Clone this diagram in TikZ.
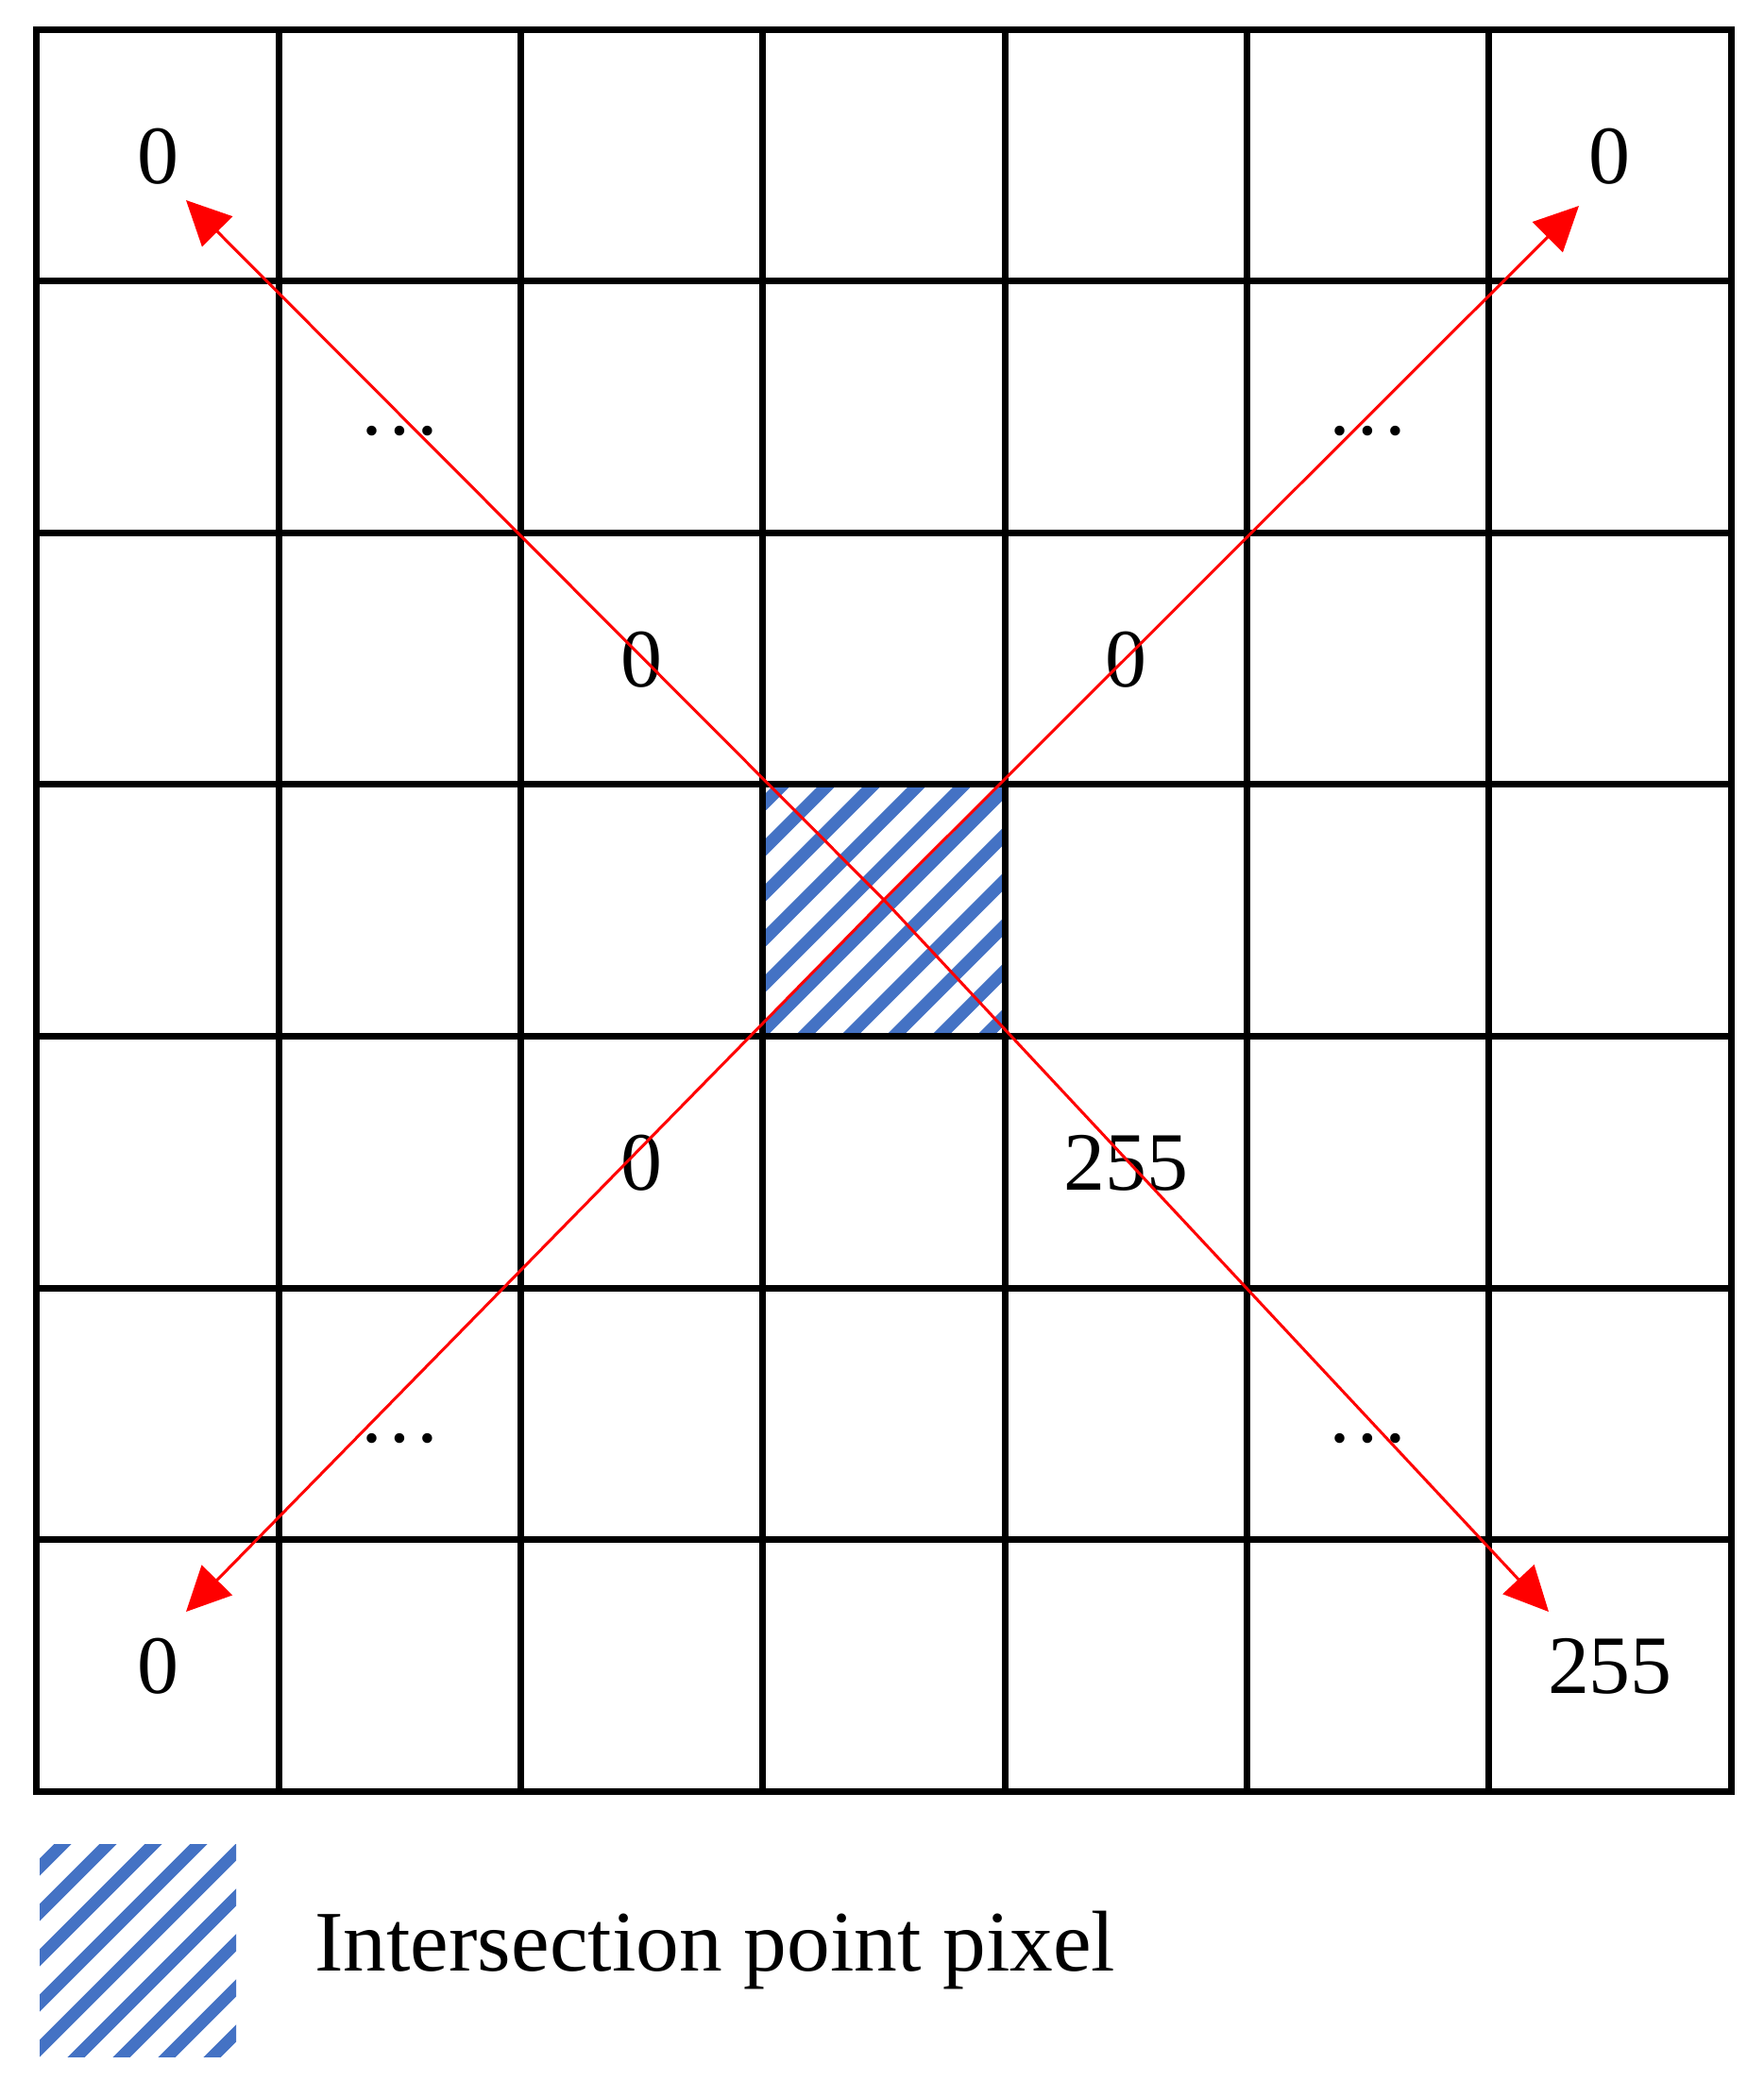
\documentclass[tikz,border=0pt]{standalone}
\usepackage{fontspec}
\setmainfont{Liberation Serif}
\usetikzlibrary{arrows.meta,positioning}
\definecolor{hatchblue}{RGB}{68,114,196}

\begin{document}
\begin{tikzpicture}
\tikzstyle {sq1}=[rectangle, inner sep=0pt, minimum width=2.563cm, minimum height=2.666cm, draw=black, line width=0.07cm]
\tikzstyle {hatched}=[path picture={\foreach \k in {-6,...,6} \draw [hatchblue, line width=0.13cm] ([xshift=\k*0.48cm]path picture bounding box.center) ++(-3,-3) -- ++(6,6);}]
\tikzstyle {sqh}=[sq1, hatched]
\tikzstyle {sqk}=[rectangle, inner sep=0pt, minimum width=2.08cm, minimum height=2.25cm, hatched]
\tikzstyle {txtonly}=[rectangle, inner sep=0pt, text height=17pt, text depth=0pt, font=\fontsize{25}{30}\selectfont]
\tikzstyle {redarr}=[draw=red, line width=0.03cm, -{Triangle[length=0.47cm,width=0.45cm]}]
\useasboundingbox (0,0) rectangle (18.68,-22.04);
\foreach \r in {0,...,6}
  \foreach \c in {0,...,6}
    \node (\r\c) [sq1] at ({0.39+2.563*(\c+0.5)},{-0.31-2.666*(\r+0.5)}) {};
\node (mid) [sqh] at (33) {};
\node (t00) [txtonly] at (00) {0};
\node (t06) [txtonly] at (06) {0};
\node (t60) [txtonly] at (60) {0};
\node (t66) [txtonly] at (66) {255};
\node (t11) [txtonly] at (11) {\ldots};
\node (t15) [txtonly] at (15) {\ldots};
\node (t51) [txtonly] at (51) {\ldots};
\node (t55) [txtonly] at (55) {\ldots};
\node (t22) [txtonly] at (22) {0};
\node (t24) [txtonly] at (24) {0};
\node (t42) [txtonly] at (42) {0};
\node (t44) [txtonly] at (44) {255};
\coordinate (ctr) at (9.36,-9.53);
\coordinate (tl) at (1.97,-2.12);
\coordinate (tr) at (16.72,-2.18);
\coordinate (bl) at (1.97,-17.07);
\coordinate (br) at (16.40,-17.07);
\draw [redarr] (ctr) -- (tl);
\draw [redarr] (ctr) -- (tr);
\draw [redarr] (ctr) -- (bl);
\draw [redarr] (ctr) -- (br);
\node (key) [sqk] at (1.46,-20.655) {};
\node (keytxt) [right=0.82cm of key, inner sep=0pt, font=\fontsize{26}{31}\selectfont] {Intersection point pixel};
\end{tikzpicture}
\end{document}
